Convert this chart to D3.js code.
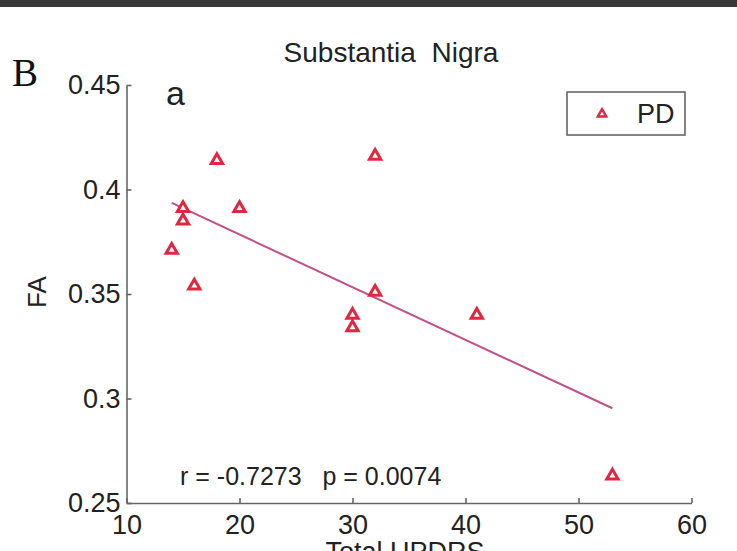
<!DOCTYPE html>
<html lang="en">
<head>
    <meta charset="utf-8">
    <style type="text/css">
        body { margin: 0; background: #fff; }
        text { font-family: Arial, "Liberation Sans", sans-serif; fill: #222; }
        .axis path, .axis line { stroke: #666; stroke-width: 1.6px; }
        .axis text { font-size: 27px; fill: #222; font-family: Arial, "Liberation Sans", sans-serif; }
    </style>
</head>
<body>
<svg width="737" height="551"></svg>

<script src="https://d3js.org/d3.v7.min.js" type="text/javascript"></script>

<script type="text/javascript">
    // Total UPDRS vs FA in substantia nigra (PD group)
    var updrs = [14, 15, 15, 16, 18, 20, 30, 30, 32, 32, 41, 53];
    var fa = [0.371, 0.391, 0.385, 0.354, 0.414, 0.391, 0.340, 0.334, 0.416, 0.351, 0.340, 0.263];
    var xTicks = [10, 20, 30, 40, 50, 60];
    var yTicks = [0.25, 0.3, 0.35, 0.4, 0.45];
    var yTickLabels = ["0.25", "0.3", "0.35", "0.4", "0.45"];

    var svg = d3.select("svg");

    svg.append("rect")
        .attr("x", 0).attr("y", 0)
        .attr("width", 737).attr("height", 7)
        .attr("fill", "#383838");

    var x = d3.scaleLinear().domain([10, 60]).range([126.5, 691.5]);
    var y = d3.scaleLinear().domain([0.25, 0.45]).range([503, 85]);

    var xAxis = svg.append("g")
        .attr("class", "axis")
        .attr("transform", "translate(0,503)")
        .call(d3.axisBottom(x).tickValues(xTicks).tickSizeInner(-5).tickSizeOuter(0).tickPadding(12));

    var yAxis = svg.append("g")
        .attr("class", "axis")
        .attr("transform", "translate(126.5,0)")
        .call(d3.axisLeft(y).tickValues(yTicks)
            .tickFormat(function (d, i) { return yTickLabels[i]; })
            .tickSizeInner(-5).tickSizeOuter(0).tickPadding(6));

    svg.selectAll(".axis .domain").attr("stroke", "#666");

    // least squares fit line
    var mx = d3.mean(updrs), my = d3.mean(fa);
    var sxy = d3.sum(updrs, function (v, i) { return (v - mx) * (fa[i] - my); });
    var sxx = d3.sum(updrs, function (v) { return (v - mx) * (v - mx); });
    var slope = sxy / sxx, icept = my - slope * mx;
    var xr = d3.extent(updrs);

    svg.append("line")
        .attr("x1", x(xr[0])).attr("y1", y(icept + slope * xr[0]))
        .attr("x2", x(xr[1])).attr("y2", y(icept + slope * xr[1]))
        .attr("stroke", "#c0508e")
        .attr("stroke-width", 2);

    var tri = d3.symbol().type(d3.symbolTriangle).size(55);

    svg.selectAll(".pt")
        .data(updrs)
        .enter()
        .append("path")
        .attr("class", "pt")
        .attr("d", tri)
        .attr("transform", function (d, i) { return "translate(" + x(d) + "," + y(fa[i]) + ")"; })
        .attr("fill", "#fff")
        .attr("stroke", "#e3263f")
        .attr("stroke-width", 3);

    // texts
    svg.append("text")
        .attr("x", 391).attr("y", 62)
        .attr("text-anchor", "middle")
        .style("font-size", "28px")
        .style("white-space", "pre")
        .text("Substantia  Nigra");

    svg.append("text")
        .attr("x", 12).attr("y", 86)
        .style("font-family", "'Liberation Serif', 'Times New Roman', serif")
        .style("font-size", "39px")
        .style("fill", "#111")
        .text("B");

    svg.append("text")
        .attr("x", 166).attr("y", 105)
        .style("font-size", "34px")
        .text("a");

    svg.append("text")
        .attr("x", 180).attr("y", 485)
        .style("font-size", "25px")
        .style("white-space", "pre")
        .text("r = -0.7273   p = 0.0074");

    svg.append("text")
        .attr("x", 405).attr("y", 561)
        .attr("text-anchor", "middle")
        .style("font-size", "27px")
        .text("Total UPDRS");

    svg.append("text")
        .attr("transform", "translate(46,292) rotate(-90)")
        .attr("text-anchor", "middle")
        .style("font-size", "26px")
        .text("FA");

    // legend
    var legend = svg.append("g").attr("transform", "translate(567,92)");
    legend.append("rect")
        .attr("width", 118).attr("height", 43)
        .attr("fill", "#fff")
        .attr("stroke", "#666")
        .attr("stroke-width", 1.6);
    legend.append("path")
        .attr("d", d3.symbol().type(d3.symbolTriangle).size(30))
        .attr("transform", "translate(35,22)")
        .attr("fill", "#fff")
        .attr("stroke", "#e3263f")
        .attr("stroke-width", 2.5);
    legend.append("text")
        .attr("x", 70).attr("y", 31)
        .style("font-size", "27px")
        .text("PD");
</script>

</body>
</html>
